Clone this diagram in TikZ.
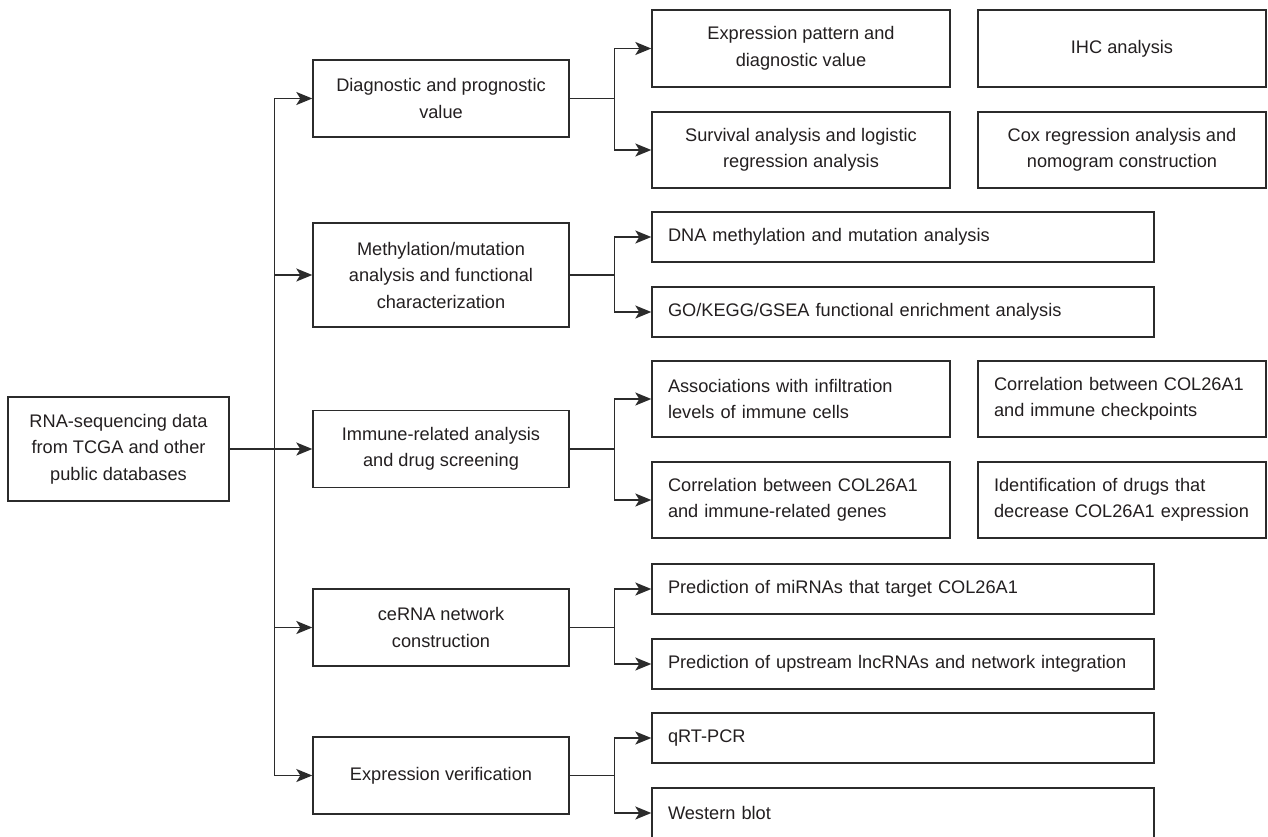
\documentclass[tikz,border=0pt]{standalone}
\usepackage{fontspec}
\setmainfont{Liberation Sans}
\usetikzlibrary{arrows.meta}
\definecolor{ln}{HTML}{2B2B2B}
\definecolor{tx}{HTML}{231F20}
\begin{document}
\begin{tikzpicture}[x=1pt,y=-1pt,
  box/.style={draw=ln, line width=1.4pt, text=tx, font=\fontsize{18.2}{26.5}\selectfont, inner sep=0pt},
  cbox/.style={box, align=center},
  lbox/.style={box, align=left, inner xsep=16pt},
  midbox/.style={cbox, minimum width=256pt, minimum height=77pt},
  narrowc/.style={cbox, minimum width=298pt, minimum height=77pt},
  rightc/.style={cbox, minimum width=288pt, minimum height=77pt},
  narrowl/.style={lbox, text width=266pt, minimum height=77pt},
  rightl/.style={lbox, text width=256pt, minimum height=77pt},
  widel/.style={lbox, text width=470pt, minimum height=50pt},
  arr/.style={draw=ln, line width=1.4pt, -{Stealth[length=16pt,width=13pt,inset=4pt]}},
]
\useasboundingbox[fill=white] (0,0) rectangle (1268,837);

% source
\node[cbox, minimum width=221pt, minimum height=104pt] (src) at (118.5,449) {RNA-sequencing data\\from TCGA and other\\public databases};

% middle column
\node[midbox] (d1) at (441,98.5) {Diagnostic and prognostic\\value};
\node[midbox, minimum height=104pt] (d2) at (441,275) {Methylation/mutation\\analysis and functional\\characterization};
\node[midbox] (d3) at (441,449) {Immune-related analysis\\and drug screening};
\node[midbox] (d4) at (441,627.5) {ceRNA network\\construction};
\node[midbox] (d5) at (441,775.5) {Expression verification};

% right: diagnostic
\node[narrowc] (a1) at (801,48.5) {Expression pattern and\\diagnostic value};
\node[rightc] (a2) at (1122,48.5) {IHC analysis};
\node[narrowc, minimum height=76pt] (a3) at (801,150) {Survival analysis and logistic\\regression analysis};
\node[rightc, minimum height=76pt] (a4) at (1122,150) {Cox regression analysis and\\nomogram construction};

% right: methylation
\node[widel] (b1) at (903,237) {DNA methylation and mutation analysis};
\node[widel] (b2) at (903,312) {GO/KEGG/GSEA functional enrichment analysis};

% right: immune
\node[narrowl, minimum height=76pt] (c1) at (801,399) {Associations with infiltration\\levels of immune cells};
\node[rightl, minimum height=76pt] (c2) at (1122,399) {Correlation between COL26A1\\and immune checkpoints};
\node[narrowl, minimum height=76pt] (c3) at (801,500) {Correlation between COL26A1\\and immune-related genes};
\node[rightl, minimum height=76pt] (c4) at (1122,500) {Identification of drugs that\\decrease COL26A1 expression};

% right: ceRNA
\node[widel] (e1) at (903,589) {Prediction of miRNAs that target COL26A1};
\node[widel] (e2) at (903,664) {Prediction of upstream lncRNAs and network integration};

% right: verification
\node[widel] (f1) at (903,738) {qRT-PCR};
\node[widel] (f2) at (903,813) {Western blot};

% trunk connectors
\foreach \n in {d1,d2,d3,d4,d5}
  \draw[arr] (src.east) -- ++(45,0) |- (\n.west);

% branch connectors
\draw[arr] (d1.east) -- ++(45,0) |- (a1.west);
\draw[arr] (d1.east) -- ++(45,0) |- (a3.west);
\draw[arr] (d2.east) -- ++(45,0) |- (b1.west);
\draw[arr] (d2.east) -- ++(45,0) |- (b2.west);
\draw[arr] (d3.east) -- ++(45,0) |- (c1.west);
\draw[arr] (d3.east) -- ++(45,0) |- (c3.west);
\draw[arr] (d4.east) -- ++(45,0) |- (e1.west);
\draw[arr] (d4.east) -- ++(45,0) |- (e2.west);
\draw[arr] (d5.east) -- ++(45,0) |- (f1.west);
\draw[arr] (d5.east) -- ++(45,0) |- (f2.west);
\end{tikzpicture}
\end{document}
